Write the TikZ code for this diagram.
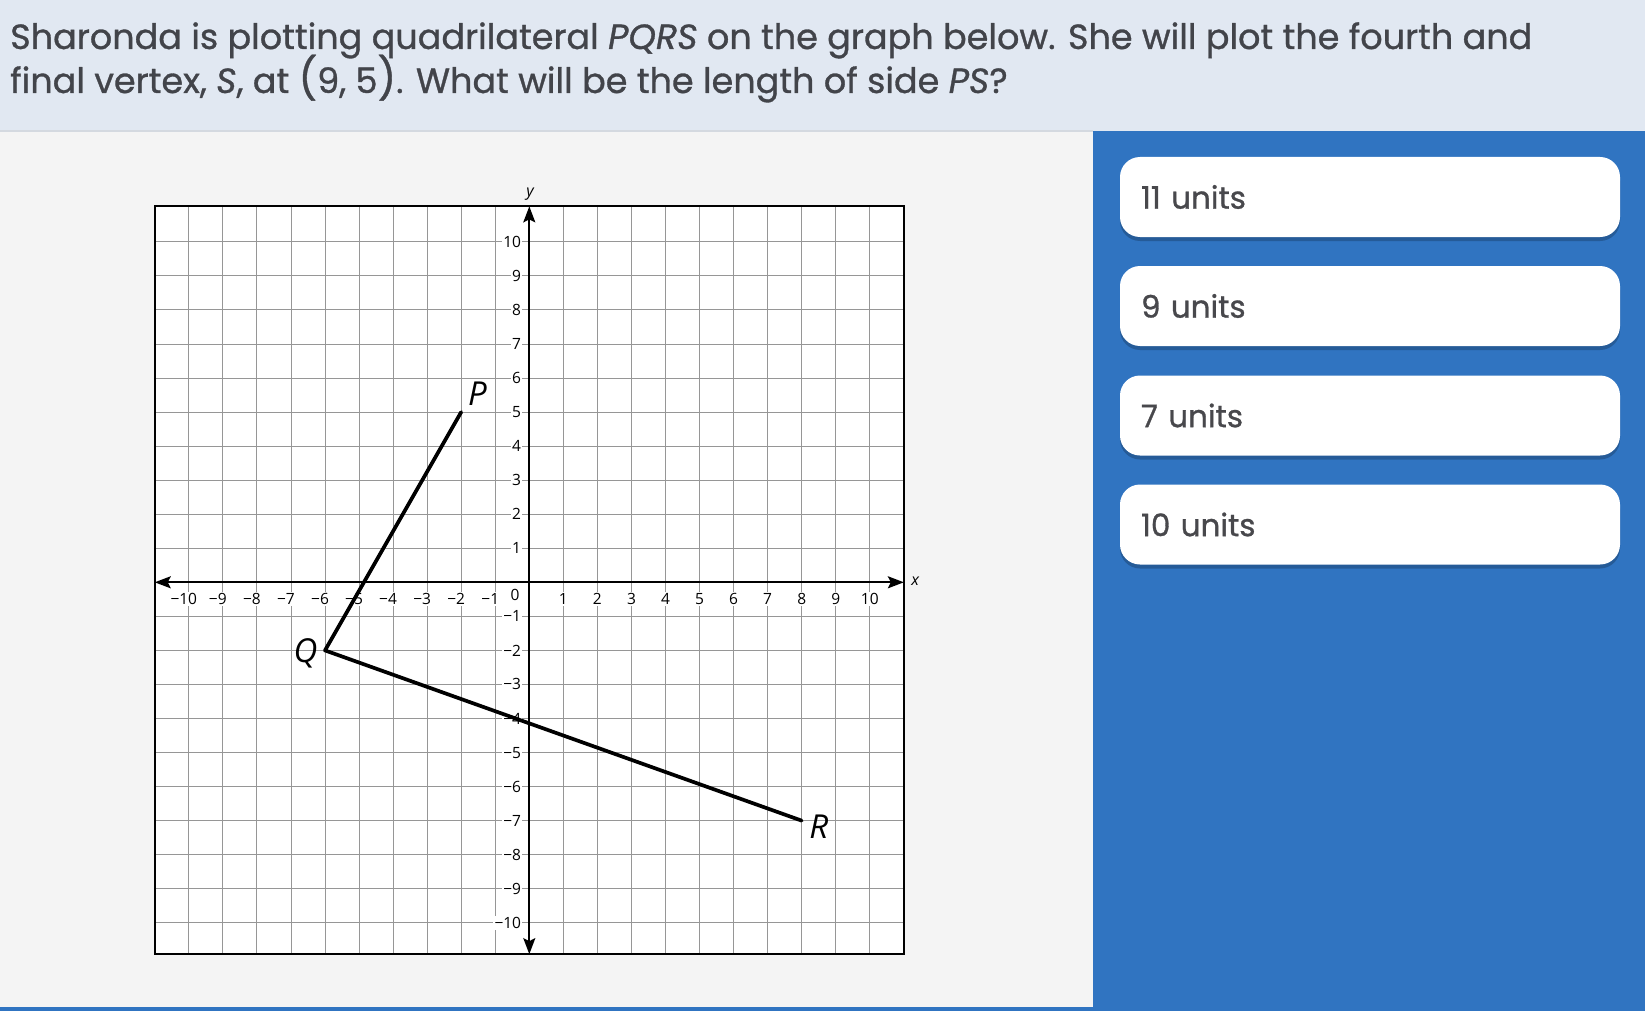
\documentclass[tikz,border=0pt]{standalone}
\usepackage{fontspec}
\setmainfont{Poppins}[FakeBold=0.9,AutoFakeBold=0.9]
\newfontfamily\gfont{Open Sans}
\usetikzlibrary{arrows.meta,shadows}
\definecolor{hdr}{RGB}{225,232,242}
\definecolor{hdrline}{RGB}{212,217,224}
\definecolor{panel}{RGB}{244,244,244}
\definecolor{bluebg}{RGB}{48,116,193}
\definecolor{txt}{RGB}{66,68,74}
\definecolor{anstxt}{RGB}{72,72,76}
\definecolor{gridc}{RGB}{150,150,150}
\tikzset{
  htext/.style={anchor=base west, inner sep=0pt, text=txt, font=\fontsize{35}{40}\selectfont\bfseries},
  ansbox/.style={fill=white, rounded corners=20pt, minimum width=500pt, minimum height=80pt,
     text width=458pt, inner xsep=21pt, align=left, text=anstxt, font=\fontsize{31}{34}\selectfont\bfseries,
     drop shadow={shadow xshift=0pt, shadow yshift=-4pt, opacity=0.35, fill=black!60!bluebg}},
  gridline/.style={draw=gridc, line width=0.9pt},
  axisline/.style={draw=black, line width=2pt, {Stealth[length=16pt,width=12pt,inset=3pt]}-{Stealth[length=16pt,width=12pt,inset=3pt]}},
  seg/.style={draw=black, line width=3.7pt, line cap=round, line join=round},
  tlab/.style={fill=white, inner sep=1.2pt, font=\gfont\fontsize{15.5}{15.5}\selectfont},
  plab/.style={inner sep=0pt, font=\gfont\itshape\fontsize{33}{33}\selectfont},
  alab/.style={inner sep=0pt, font=\gfont\itshape\fontsize{16}{16}\selectfont}
}
\begin{document}
\begin{tikzpicture}[x=1pt,y=-1pt]
\useasboundingbox (0,0) rectangle (1645,1011);
% backgrounds
\fill[hdr] (0,0) rectangle (1645,131);
\fill[panel] (0,131) rectangle (1093,1011);
\fill[bluebg] (1093,131) rectangle (1645,1011);
\fill[bluebg] (0,1007) rectangle (1093,1011);
\fill[hdrline] (0,130) rectangle (1093,132.5);
% header text
\node[htext] (h1) at (10,49) {Sharonda is plotting quadrilateral \textit{PQRS} on the graph below. She will plot the fourth and};
\node[htext] (h2) at (10,93) {final vertex, \textit{S}, at {\fontsize{41}{41}\selectfont(}9, 5{\fontsize{41}{41}\selectfont)}. What will be the length of side \textit{PS}?};
% answers
\node[ansbox] (a1) at (1370,197) {11 units};
\node[ansbox] (a2) at (1370,306) {9 units};
\node[ansbox] (a3) at (1370,415.5) {7 units};
\node[ansbox] (a4) at (1370,524.5) {10 units};
% graph
\begin{scope}[shift={(529.3,582.3)}, x=34.05pt, y=34.05pt]
  \coordinate (BL) at (-11,-10.92);
  \coordinate (TR) at (11,11.04);
  \fill[white] (BL) rectangle (TR);
  \foreach \i in {-10,...,10} {
    \draw[gridline] (\i,-10.92) -- (\i,11.04);
    \draw[gridline] (-11,\i) -- (11,\i);
  }
  % tick labels
  \foreach \i in {1,...,10} {
    \node[tlab] (xp\i) at (\i,-0.49) {\i};
    \node[tlab] (xn\i) at ([xshift=-5pt]-\i,-0.49) {−\i};
    \node[tlab, anchor=east] (yp\i) at (-0.2,\i) {\i};
    \node[tlab, anchor=east] (yn\i) at (-0.2,-\i) {−\i};
  }
  \node[tlab] (zero) at (-0.42,-0.38) {0};
  % axes
  \coordinate (XL) at (-11,0);
  \coordinate (XR) at (11,0);
  \coordinate (YB) at (0,-10.92);
  \coordinate (YT) at (0,11.04);
  \draw[axisline] (XL) -- (XR);
  \draw[axisline] (YB) -- (YT);
  \draw[line width=1.8pt] (BL) rectangle (TR);
  \node[alab] (xlab) at (11.33,0.04) {x};
  \node[alab] (ylab) at (0.02,11.41) {y};
  % quadrilateral
  \coordinate (P) at (-2,5);
  \coordinate (Q) at (-6,-2);
  \coordinate (R) at (8,-7);
  \draw[seg] (P) -- (Q) -- (R);
  \node[plab] (Pl) at ([shift={(0.48,0.53)}]P) {P};
  \node[plab] (Ql) at ([shift={(-0.57,-0.1)}]Q) {Q};
  \node[plab] (Rl) at ([shift={(0.5,-0.19)}]R) {R};
\end{scope}
\end{tikzpicture}
\end{document}
